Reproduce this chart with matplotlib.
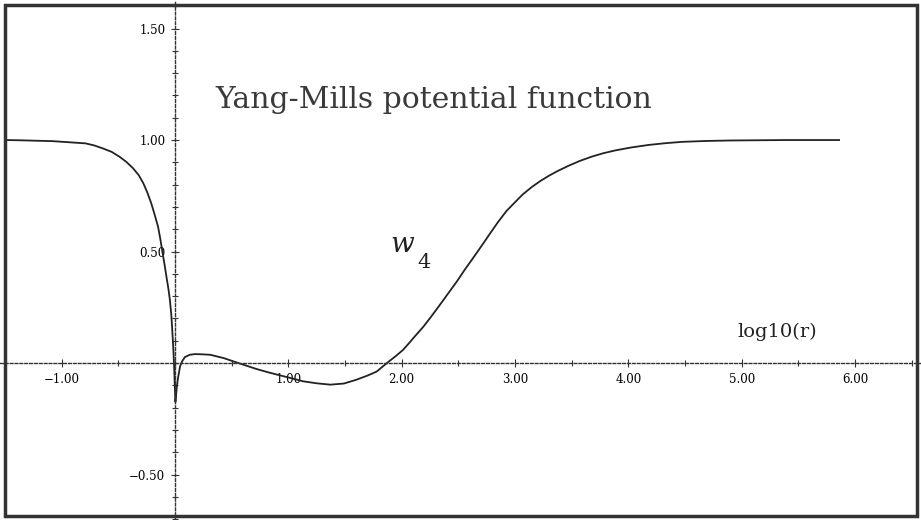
import matplotlib
matplotlib.use("Agg")
import matplotlib.pyplot as plt
from matplotlib.ticker import MultipleLocator, FuncFormatter
from matplotlib.patches import Rectangle

log_r = [-1.50, -1.38, -1.08, -0.79, -0.715, -0.64, -0.56, -0.49, -0.43, -0.37,
         -0.32, -0.28, -0.245, -0.21, -0.18, -0.15, -0.13, -0.112, -0.094, -0.076,
         -0.058, -0.045, -0.033, -0.025, -0.015, -0.008, -0.002, 0.003, 0.008, 0.015,
         0.025, 0.044, 0.065, 0.088, 0.13, 0.177, 0.24, 0.31, 0.43, 0.54,
         0.63, 0.72, 0.81, 0.90, 1.01, 1.13, 1.25, 1.37, 1.49, 1.60,
         1.70, 1.78, 1.87, 1.95, 2.01, 2.07, 2.11, 2.19, 2.26, 2.33,
         2.41, 2.49, 2.56, 2.64, 2.71, 2.78, 2.85, 2.925, 3.00, 3.07,
         3.15, 3.22, 3.30, 3.38, 3.47, 3.57, 3.68, 3.78, 3.89, 4.03,
         4.18, 4.33, 4.48, 4.70, 4.90, 5.40, 5.86]
w4 = [1.000, 0.999, 0.995, 0.985, 0.976, 0.963, 0.947, 0.925, 0.902, 0.873,
      0.842, 0.806, 0.765, 0.716, 0.665, 0.611, 0.556, 0.500, 0.445, 0.387,
      0.330, 0.280, 0.215, 0.150, 0.060, -0.020, -0.110, -0.175, -0.150, -0.110,
      -0.070, -0.015, 0.010, 0.027, 0.037, 0.040, 0.039, 0.037, 0.022, 0.003,
      -0.012, -0.027, -0.040, -0.052, -0.066, -0.082, -0.091, -0.097, -0.092, -0.075,
      -0.056, -0.038, 0.000, 0.032, 0.058, 0.092, 0.116, 0.162, 0.208, 0.256,
      0.312, 0.368, 0.421, 0.478, 0.529, 0.581, 0.632, 0.682, 0.721, 0.757,
      0.790, 0.815, 0.840, 0.862, 0.884, 0.906, 0.926, 0.941, 0.954, 0.967,
      0.978, 0.986, 0.992, 0.996, 0.998, 1.000, 1.000]

titulo = "Yang-Mills potential function"
etiqueta_x = "log10(r)"
ticks_x = [-1, 1, 2, 3, 4, 5, 6]
ticks_y = [-0.5, 0.5, 1.0, 1.5]


def formato(v, pos):
    return f"{v:.2f}".replace("-", "\u2212")


fig = plt.figure(figsize=(9.21, 5.20), dpi=100)
ax = fig.add_axes([0, 0, 1, 1])
ax.set_xlim(-1.545, 6.583)
ax.set_ylim(-0.704, 1.628)

ax.plot(log_r, w4, color="#222222", lw=1.3, solid_joinstyle="round")

# ejes por el origen, punteados
for lado in ["top", "right"]:
    ax.spines[lado].set_visible(False)
for lado in ["left", "bottom"]:
    ax.spines[lado].set_position(("data", 0))
    ax.spines[lado].set_linestyle((0, (2, 1.5)))
    ax.spines[lado].set_linewidth(1.0)
    ax.spines[lado].set_color("#333333")

ax.set_xticks(ticks_x)
ax.set_yticks(ticks_y)
ax.xaxis.set_minor_locator(MultipleLocator(0.5))
ax.yaxis.set_minor_locator(MultipleLocator(0.1))
ax.xaxis.set_major_formatter(FuncFormatter(formato))
ax.yaxis.set_major_formatter(FuncFormatter(formato))
ax.tick_params(which="both", direction="inout", color="#333333", width=0.8)
ax.tick_params(which="major", length=6, labelsize=8.5, pad=4)
ax.tick_params(which="minor", length=5)
for lbl in ax.get_xticklabels() + ax.get_yticklabels():
    lbl.set_family("DejaVu Serif")

ax.text(0.36, 1.18, titulo, family="DejaVu Serif", fontsize=21.5,
        color="#3a3a3a", ha="left", va="center")
ax.text(4.96, 0.14, etiqueta_x, family="DejaVu Serif", fontsize=14,
        color="#222222", ha="left", va="center")
ax.text(1.90, 0.53, "w", family="DejaVu Serif", style="italic", fontsize=20,
        color="#222222", ha="left", va="center")
ax.text(2.14, 0.45, "4", family="DejaVu Serif", fontsize=15,
        color="#222222", ha="left", va="center")

# marco alrededor de la imagen
fig.patches.append(Rectangle((0.005, 0.007), 0.991, 0.984, transform=fig.transFigure,
                             fill=False, lw=2.5, edgecolor="#333333"))

fig.savefig("out.png", dpi=100)
